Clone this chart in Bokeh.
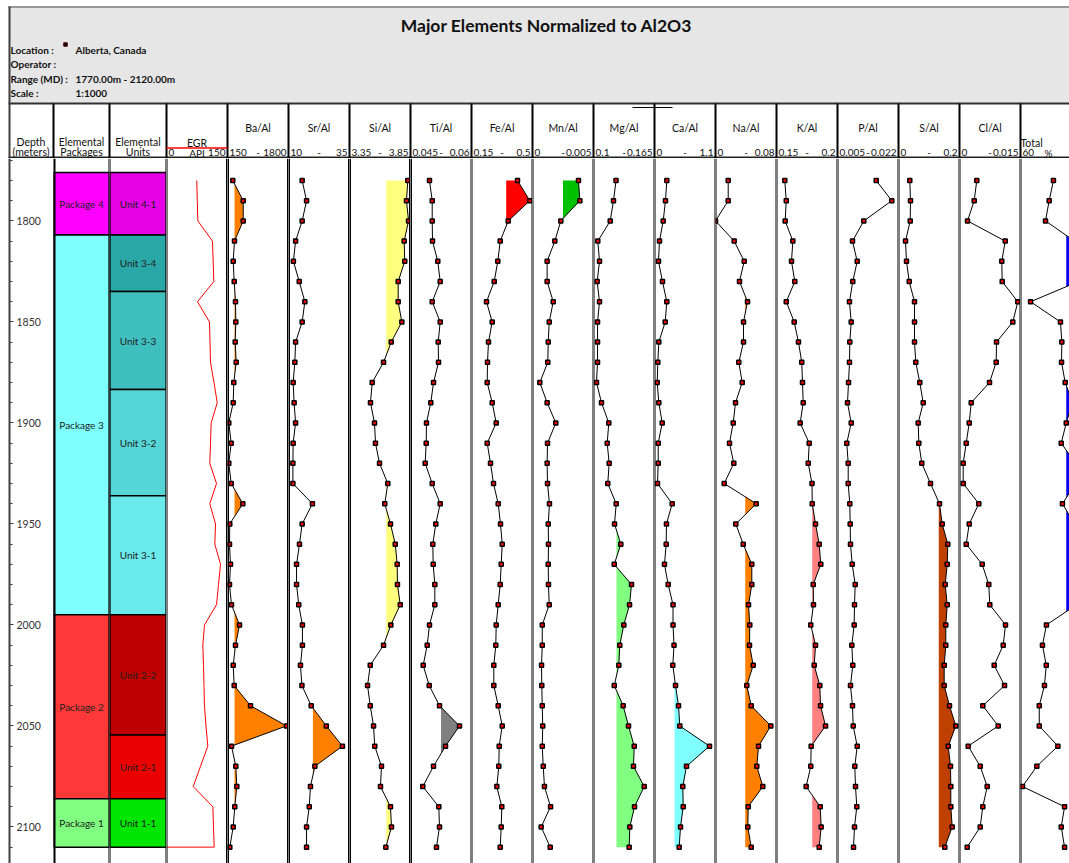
from bokeh.plotting import figure
from bokeh.layouts import row, column
from bokeh.models import Range1d, LinearAxis, SingleIntervalTicker, Span
from bokeh.embed import file_html
from bokeh.resources import INLINE
from bokeh.core.properties import value

FONT = "Lato"

# ---------------- data ----------------
depth = [1780, 1790, 1800, 1810, 1820, 1830, 1840, 1850, 1860, 1870, 1880, 1890,
         1900, 1910, 1920, 1930, 1940, 1950, 1960, 1970, 1980, 1990, 2000, 2010,
         2020, 2030, 2040, 2050, 2060, 2070, 2080, 2090, 2100, 2110]

egr_depth = depth + [2110]
egr_api = [74.5, 75.7, 77.0, 113.0, 114.8, 116.3, 76.2, 105.7, 107.0, 108.2, 116.8, 124.7,
           109.9, 108.2, 106.5, 123.0, 106.5, 120.5, 118.8, 132.8, 127.9, 123.0, 93.4, 89.3,
           91.0, 92.2, 93.4, 97.1, 101.6, 83.6, 65.7, 113.9, 115.6, 117.3, 0.0]

ba_al = [293, 575, 575, 339, 304, 331, 366, 375, 358, 385, 320, 304, 185, 250, 185, 250, 564,
         212, 204, 231, 204, 258, 475, 366, 304, 331, 772, 1746, 258, 375, 402, 347, 304, 212]
sr_al = [15.6, 17.4, 15.6, 12.9, 12.0, 14.4, 16.7, 15.6, 12.9, 12.6, 11.9, 12.3, 12.9, 11.9,
         11.8, 11.8, 19.8, 15.6, 14.5, 13.3, 13.3, 14.2, 15.7, 15.7, 14.9, 15.5, 19.3, 25.5,
         32.1, 20.8, 19.0, 18.5, 17.4, 17.4]
si_al = [3.828, 3.817, 3.834, 3.798, 3.803, 3.749, 3.749, 3.779, 3.692, 3.629, 3.536, 3.522,
         3.555, 3.563, 3.596, 3.664, 3.639, 3.686, 3.725, 3.741, 3.743, 3.766, 3.689, 3.629,
         3.520, 3.498, 3.520, 3.547, 3.557, 3.612, 3.604, 3.686, 3.694, 3.648]
ti_al = [0.04967, 0.05034, 0.05034, 0.05041, 0.05171, 0.0523, 0.05034, 0.0523, 0.05181,
         0.05189, 0.05066, 0.04999, 0.04893, 0.04886, 0.04861, 0.05034, 0.0523, 0.05122,
         0.05048, 0.05058, 0.05098, 0.05098, 0.04967, 0.04911, 0.04812, 0.0496, 0.05213,
         0.05705, 0.05361, 0.05066, 0.04802, 0.05196, 0.05213, 0.05139]
fe_al = [0.414, 0.4845, 0.3606, 0.3147, 0.3009, 0.2802, 0.2361, 0.2688, 0.2475, 0.2418,
         0.2401, 0.2688, 0.2917, 0.2401, 0.259, 0.2762, 0.3032, 0.3164, 0.3262, 0.3204,
         0.3147, 0.3032, 0.2917, 0.2894, 0.278, 0.278, 0.3032, 0.3262, 0.3089, 0.3066,
         0.2952, 0.3239, 0.3204, 0.3147]
mn_al = [0.00377, 0.00388, 0.00232, 0.00183, 0.00120, 0.00120, 0.00170, 0.00137, 0.00129,
         0.00125, 0.00060, 0.00120, 0.00191, 0.00123, 0.00120, 0.00123, 0.00139, 0.00129,
         0.00131, 0.00129, 0.00131, 0.00137, 0.00080, 0.00080, 0.00074, 0.00076, 0.00080,
         0.00084, 0.00080, 0.00088, 0.00098, 0.00148, 0.00071, 0.00145]
mg_al = [0.1240, 0.1213, 0.1178, 0.1046, 0.1064, 0.1039, 0.1064, 0.1043, 0.1043, 0.1043,
         0.1032, 0.1085, 0.1163, 0.1146, 0.1167, 0.1152, 0.1242, 0.1224, 0.1291, 0.1221,
         0.1405, 0.1384, 0.1323, 0.1280, 0.1270, 0.1221, 0.1316, 0.1373, 0.1434, 0.1426,
         0.1540, 0.1437, 0.1387, 0.1380]
ca_al = [0.222, 0.198, 0.157, 0.090, 0.072, 0.144, 0.222, 0.193, 0.078, 0.060, 0.049, 0.078,
         0.139, 0.067, 0.067, 0.054, 0.319, 0.216, 0.211, 0.180, 0.247, 0.334, 0.334, 0.352,
         0.330, 0.379, 0.433, 0.456, 0.992, 0.577, 0.510, 0.518, 0.469, 0.445]
na_al = [0.01666, 0.01666, 0.0, 0.02452, 0.03764, 0.03148, 0.04197, 0.03672, 0.03672,
         0.03056, 0.03502, 0.02623, 0.02321, 0.01836, 0.02400, 0.01141, 0.05338, 0.02662,
         0.03633, 0.04761, 0.04761, 0.04328, 0.04498, 0.04459, 0.04944, 0.04105, 0.04682,
         0.07253, 0.05640, 0.05417, 0.06203, 0.04289, 0.04236, 0.04682]
k_al = [0.1568, 0.1580, 0.1571, 0.1634, 0.1623, 0.1650, 0.1580, 0.1645, 0.1680, 0.1707,
        0.1713, 0.1719, 0.1694, 0.1768, 0.1760, 0.1791, 0.1793, 0.1820, 0.1850, 0.1863,
        0.1801, 0.1803, 0.1781, 0.1820, 0.1809, 0.1855, 0.1861, 0.1902, 0.1784, 0.1781,
        0.1743, 0.1858, 0.1866, 0.1850]
p_al = [0.01579, 0.02013, 0.01233, 0.00918, 0.01049, 0.00926, 0.00834, 0.00882, 0.00843,
        0.00834, 0.00807, 0.00779, 0.00882, 0.00759, 0.00798, 0.00798, 0.00843, 0.00854,
        0.00862, 0.00910, 0.00993, 0.00974, 0.00965, 0.00899, 0.00926, 0.00862, 0.00918,
        0.00938, 0.01049, 0.00982, 0.01002, 0.01038, 0.00974, 0.00946]
s_al = [0.0370, 0.0393, 0.0384, 0.0230, 0.0262, 0.0351, 0.0525, 0.0525, 0.0525, 0.0567,
        0.0698, 0.0810, 0.0646, 0.0666, 0.0764, 0.1049, 0.1344, 0.1433, 0.1616, 0.1597,
        0.1531, 0.1597, 0.1551, 0.1551, 0.1498, 0.1498, 0.1672, 0.1879, 0.1630, 0.1705,
        0.1715, 0.1715, 0.1761, 0.1518]
cl_al = [0.00425, 0.00361, 0.00197, 0.01124, 0.01040, 0.01050, 0.01434, 0.01311, 0.00910,
         0.00902, 0.00738, 0.00288, 0.00239, 0.00165, 0.00091, 0.00091, 0.00475, 0.00239,
         0.00165, 0.00558, 0.00720, 0.00745, 0.01131, 0.01075, 0.00853, 0.01107, 0.00573,
         0.00952, 0.00214, 0.00509, 0.00681, 0.00573, 0.00509, 0.00189]
total_pct = [81.6, 78.8, 76.4, 95.4, 99.3, 98.0, 66.6, 86.2, 87.1, 86.9, 89.3, 94.1, 90.0,
             86.7, 96.1, 96.1, 87.5, 95.4, 98.0, 96.7, 98.0, 96.7, 77.0, 74.4, 76.9, 75.7,
             72.3, 72.3, 84.5, 70.7, 61.3, 88.9, 86.7, 88.9]

pkg_names = ["Package 4", "Package 3", "Package 2", "Package 1"]
pkg_top = [1776, 1807, 1995, 2086]
pkg_base = [1807, 1995, 2086, 2110]
pkg_colors = ["#ff00ff", "#80ffff", "#ff3838", "#80ff80"]

unit_names = ["Unit 4-1", "Unit 3-4", "Unit 3-3", "Unit 3-2", "Unit 3-1", "Unit 2-2", "Unit 2-1", "Unit 1-1"]
unit_top = [1776, 1807, 1835, 1883.5, 1936, 1995, 2054.5, 2086]
unit_base = [1807, 1835, 1883.5, 1936, 1995, 2054.5, 2086, 2110]
unit_colors = ["#e600e6", "#2aa8a8", "#40bfbf", "#55d5d5", "#6aeaea", "#bf0000", "#eb0000", "#00e600"]

track_names = ["Ba/Al", "Sr/Al", "Si/Al", "Ti/Al", "Fe/Al", "Mn/Al", "Mg/Al", "Ca/Al",
               "Na/Al", "K/Al", "P/Al", "S/Al", "Cl/Al"]
track_values = [ba_al, sr_al, si_al, ti_al, fe_al, mn_al, mg_al, ca_al, na_al, k_al, p_al, s_al, cl_al]
track_min = [150, 10, 3.35, 0.045, 0.15, 0, 0.1, 0, 0, 0.15, 0.005, 0, 0]
track_max = [1800, 35, 3.85, 0.06, 0.5, 0.005, 0.165, 1.1, 0.08, 0.2, 0.022, 0.2, 0.015]
track_min_lbl = ["150", "10", "3.35", "0.045", "0.15", "0", "0.1", "0", "0", "0.15", "0.005", "0", "0"]
track_max_lbl = ["1800", "35", "3.85", "0.06", "0.5", "0.005", "0.165", "1.1", "0.08", "0.2", "0.022", "0.2", "0.015"]
track_cutoff = [340, 20.0, 3.651, 0.0525, 0.349, 0.0025, 0.1245, 0.361, 0.039, 0.1793, None, 0.132, None]
track_fill = ["#ff8000", "#ff8000", "#ffff80", "#808080", "#ff0000", "#00c000", "#80ff80",
              "#80ffff", "#ff8000", "#ff8080", None, "#c04000", None]

total_min, total_max_visible, total_cutoff = 60, 92.13, 90.0

# ---------------- layout constants ----------------
W, H = 1069, 863
HDR_H = 158
TRACK_H = H - HDR_H
X0 = 8
col_widths = [45, 56, 57, 61] + [61] * 13 + [49]
bounds = [X0]
for w in col_widths:
    bounds.append(bounds[-1] + w)

yr = Range1d(2118.1, 1769.1)
MS, MLW = 4, 1.5


def base_fig(w, xr):
    p = figure(width=w, height=TRACK_H, x_range=xr, y_range=yr, min_border=0,
               toolbar_location=None, output_backend="svg",
               x_axis_location=None, y_axis_location=None,
               outline_line_color=None, background_fill_color="white",
               border_fill_color="white")
    p.grid.visible = False
    return p


def edges(p, lw_left=2, lw_right=2):
    p.add_layout(Span(location=p.x_range.start, dimension="height",
                      line_color="black", line_width=lw_left))
    p.add_layout(Span(location=p.x_range.end, dimension="height",
                      line_color="black", line_width=lw_right))


def fill_arrays(vals, ys, base):
    fx, fy = [], []
    for i in range(len(vals)):
        if i > 0:
            v0, v1 = vals[i - 1], vals[i]
            if (v0 - base) * (v1 - base) < 0:
                t = (base - v0) / (v1 - v0)
                fy.append(ys[i - 1] + t * (ys[i] - ys[i - 1]))
                fx.append(base)
        fy.append(ys[i])
        fx.append(max(vals[i], base))
    return fx, fy


figs = []

# depth column
dp = figure(frame_width=1, frame_height=TRACK_H, x_range=Range1d(0, 1), y_range=yr,
            min_border_left=X0, min_border_top=0, min_border_bottom=0,
            min_border_right=col_widths[0] - 1,
            toolbar_location=None, output_backend="svg", x_axis_location=None,
            y_axis_location=None, outline_line_color=None, border_fill_color="white")
dp.grid.visible = False
ax = LinearAxis(ticker=SingleIntervalTicker(interval=50, num_minor_ticks=5),
                axis_line_width=2, axis_line_color="#404040",
                major_tick_out=4, major_tick_in=0, minor_tick_out=3, minor_tick_in=0,
                major_tick_line_color="#404040", minor_tick_line_color="#404040",
                major_label_text_font=FONT, major_label_text_font_size="10.5px",
                major_label_text_color="#333333", major_label_standoff=3)
dp.add_layout(ax, "right")
figs.append(dp)

# packages
pp = base_fig(col_widths[1], Range1d(0, 1))
pp.quad(left=0, right=1, top=pkg_top, bottom=pkg_base, fill_color=pkg_colors,
        line_color="black", line_width=1.5)
pp.text(x=[0.5] * len(pkg_names), y=[(a + b) / 2 for a, b in zip(pkg_top, pkg_base)],
        text=pkg_names, text_font=value(FONT), text_font_size="10px",
        text_align="center", text_baseline="middle", text_color="#222222")
edges(pp, 4, 2)
figs.append(pp)

# units
up = base_fig(col_widths[2], Range1d(0, 1))
up.quad(left=0, right=1, top=unit_top, bottom=unit_base, fill_color=unit_colors,
        line_color="black", line_width=1.5)
up.text(x=[0.5] * len(unit_names), y=[(a + b) / 2 for a, b in zip(unit_top, unit_base)],
        text=unit_names, text_font=value(FONT), text_font_size="10px",
        text_align="center", text_baseline="middle", text_color="#222222")
edges(up, 2, 2)
figs.append(up)

# EGR
ep = base_fig(col_widths[3], Range1d(0, 150))
ep.line(egr_api, egr_depth, line_color="#ff0000", line_width=1)
edges(ep, 2, 3)
figs.append(ep)

# element tracks
for i, name in enumerate(track_names):
    p = base_fig(61, Range1d(track_min[i], track_max[i]))
    vals = track_values[i]
    if track_cutoff[i] is not None:
        fx, fy = fill_arrays(vals, depth, track_cutoff[i])
        p.harea(x1=[track_cutoff[i]] * len(fx), x2=fx, y=fy,
                fill_color=track_fill[i], fill_alpha=1.0)
    p.line(vals, depth, line_color="black", line_width=1)
    p.scatter(vals, depth, marker="square", size=MS, fill_color="#ff0000",
              line_color="black", line_width=MLW)
    lw = 3 if i < 3 else 2
    lw_left = 3 if i < 4 else 2
    edges(p, lw_left, lw)
    figs.append(p)

# total
tp = base_fig(col_widths[-1], Range1d(total_min, total_max_visible))
fx, fy = fill_arrays(total_pct, depth, total_cutoff)
tp.harea(x1=[total_cutoff] * len(fx), x2=fx, y=fy, fill_color="#0000ff")
tp.line(total_pct, depth, line_color="black", line_width=1)
tp.scatter(total_pct, depth, marker="square", size=MS, fill_color="#ff0000",
           line_color="black", line_width=MLW)
tp.add_layout(Span(location=total_min, dimension="height", line_color="black", line_width=2))
figs.append(tp)

# ---------------- header ----------------
hdr = figure(width=W, height=HDR_H, x_range=Range1d(0, W),
             y_range=Range1d(HDR_H, 0), min_border=0, toolbar_location=None,
             output_backend="svg", x_axis_location=None, y_axis_location=None,
             outline_line_color=None, border_fill_color="white", background_fill_color="white")
hdr.grid.visible = False
hdr.quad(left=X0, right=W, top=6.5, bottom=103, fill_color="#e6e6e6", line_color=None)
hdr.segment(x0=[X0], y0=[6.5], x1=[W], y1=[6.5], line_color="#7a7a7a", line_width=1.5)
hdr.segment(x0=[X0], y0=[103], x1=[W], y1=[103], line_color="#303030", line_width=2)
hdr.segment(x0=[X0], y0=[157], x1=[W], y1=[157], line_color="#202020", line_width=2)
hdr.segment(x0=[X0 + 1], y0=[6], x1=[X0 + 1], y1=[HDR_H], line_color="#404040", line_width=2)
vb = bounds[1:-1]
hdr.segment(x0=vb, y0=[103] * len(vb), x1=vb, y1=[HDR_H] * len(vb), line_color="black", line_width=2)
hdr.segment(x0=[632], y0=[107], x1=[672], y1=[107], line_color="black", line_width=1)

hdr.text(x=[546], y=[25], text=["Major Elements Normalized to Al2O3"],
         text_font=value(FONT), text_font_size="17.5px", text_font_style="bold",
         text_align="center", text_baseline="middle", text_color="#111111")
hdr.text(x=[10, 10, 10, 10], y=[49, 63, 78, 92],
         text=["Location :", "Operator :", "Range (MD) :", "Scale :"],
         text_font=value(FONT), text_font_size="10px", text_font_style="bold",
         text_align="left", text_baseline="middle", text_color="#111111")
hdr.text(x=[75, 75, 75], y=[49, 78, 92],
         text=["Alberta, Canada", "1770.00m - 2120.00m", "1:1000"],
         text_font=value(FONT), text_font_size="10px", text_font_style="bold",
         text_align="left", text_baseline="middle", text_color="#111111")
hdr.scatter(x=[65], y=[44], marker="square", size=3.5, fill_color="black", line_color="#550000")

# column headers
HF = "10.5px"
c = [(bounds[k] + bounds[k + 1]) / 2 for k in range(len(col_widths))]
hdr.text(x=[c[0], c[1], c[2]], y=[141.5] * 3, text=["Depth", "Elemental", "Elemental"],
         text_font=value(FONT), text_font_size=HF, text_align="center",
         text_baseline="middle", text_color="#111111")
hdr.text(x=[c[0], c[1], c[2]], y=[151.5] * 3, text=["(meters)", "Packages", "Units"],
         text_font=value(FONT), text_font_size=HF, text_align="center",
         text_baseline="middle", text_color="#111111")
hdr.text(x=[c[3]], y=[142.5], text=["EGR"], text_font=value(FONT), text_font_size=HF,
         text_align="center", text_baseline="middle", text_color="#111111")
hdr.segment(x0=[bounds[3]], y0=[147.5], x1=[bounds[4]], y1=[147.5], line_color="#ff0000", line_width=1.5)

lefts = [bounds[3]] + bounds[4:17]
rights = [bounds[4]] + bounds[5:18]
min_lbls = ["0"] + track_min_lbl
max_lbls = ["150"] + track_max_lbl
mid_lbls = ["API"] + ["-"] * len(track_names)
RY = 152
hdr.text(x=[l + 2 for l in lefts], y=[RY] * len(lefts), text=min_lbls,
         text_font=value(FONT), text_font_size="10px", text_align="left",
         text_baseline="middle", text_color="#111111")
hdr.text(x=[(l + r) / 2 for l, r in zip(lefts, rights)], y=[RY] * len(lefts), text=mid_lbls,
         text_font=value(FONT), text_font_size="10px", text_align="center",
         text_baseline="middle", text_color="#111111")
hdr.text(x=[r - 2 for r in rights], y=[RY] * len(lefts), text=max_lbls,
         text_font=value(FONT), text_font_size="10px", text_align="right",
         text_baseline="middle", text_color="#111111")
hdr.text(x=[(bounds[k] + bounds[k + 1]) / 2 for k in range(4, 17)], y=[127] * 13,
         text=track_names, text_font=value(FONT), text_font_size=HF,
         text_align="center", text_baseline="middle", text_color="#111111")
hdr.text(x=[1031], y=[142], text=["Total"], text_font=value(FONT), text_font_size=HF,
         text_align="center", text_baseline="middle", text_color="#111111")
hdr.text(x=[1022, 1044], y=[RY, RY], text=["60", "%"], text_font=value(FONT),
         text_font_size="10px", text_align="left", text_baseline="middle", text_color="#111111")

layout = column(hdr, row(*figs, spacing=0), spacing=0)
open("out.html", "w").write(file_html(layout, INLINE))
